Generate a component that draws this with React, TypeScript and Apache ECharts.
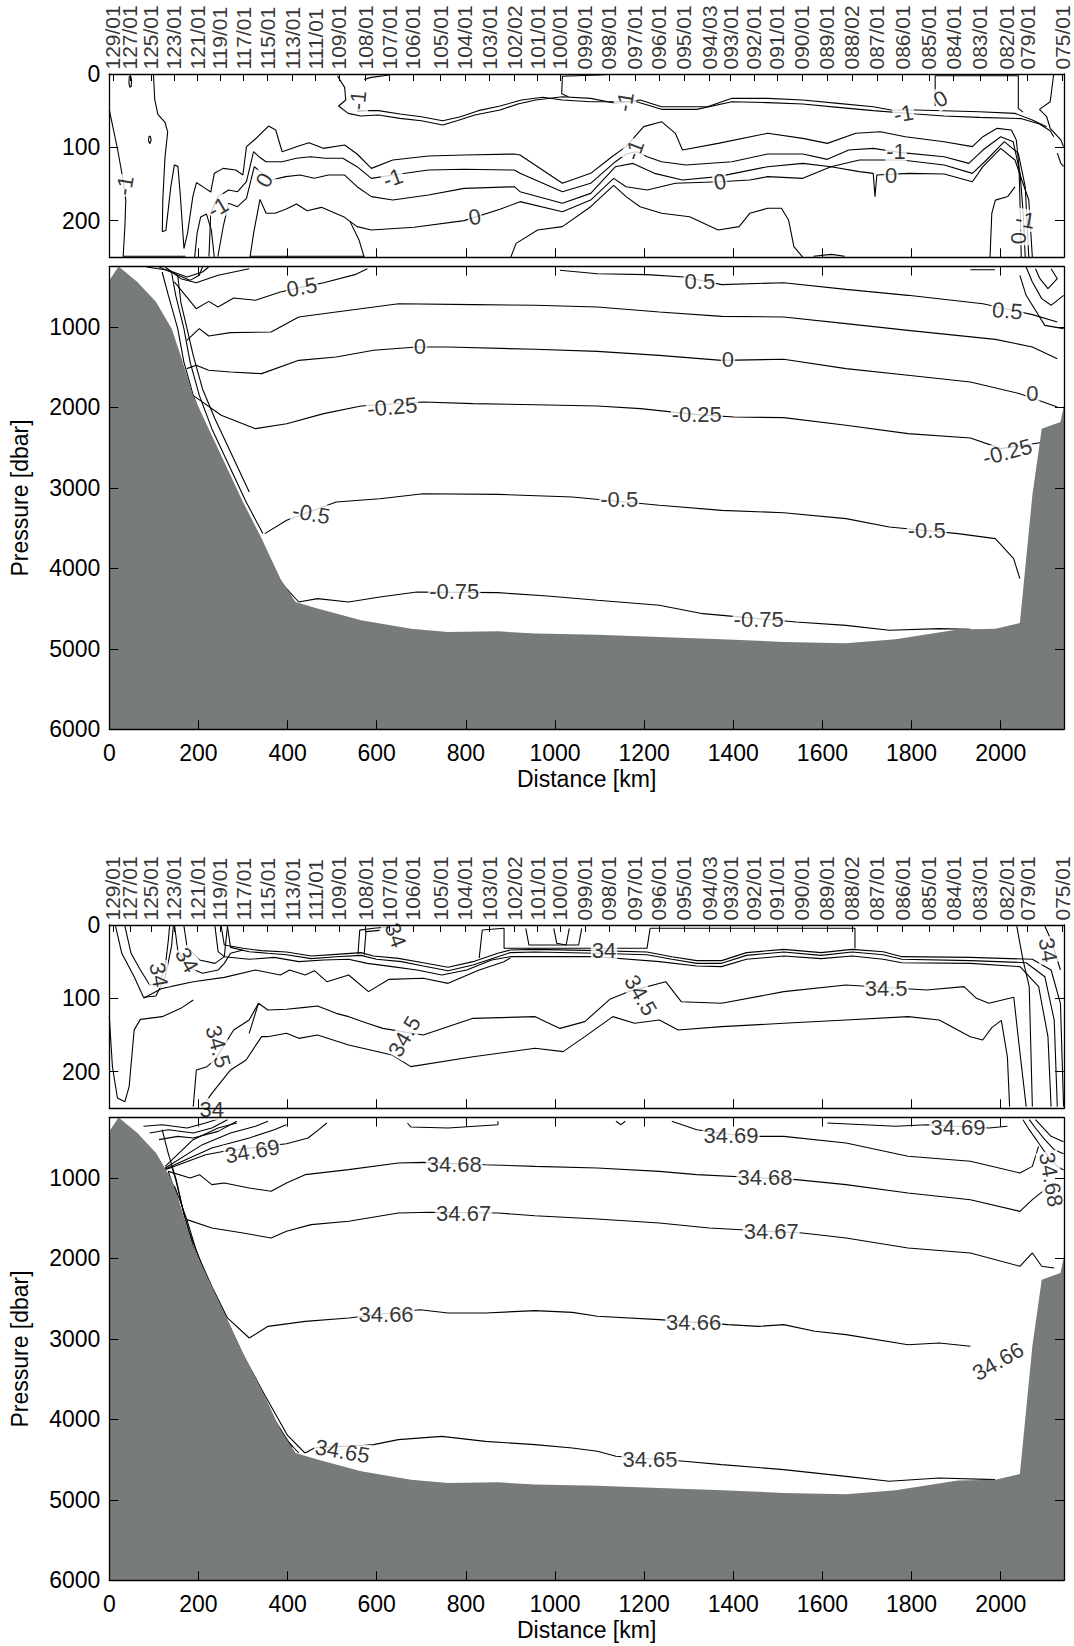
import React, { useEffect, useRef } from "react";
import * as echarts from "echarts";

const FONT = '"Liberation Sans", Arial, Helvetica, sans-serif';
const GRAY = "#787c79";

// ---------- axes ----------
const X_MAX = 2142;
const X_TICKS = [0, 200, 400, 600, 800, 1000, 1200, 1400, 1600, 1800, 2000];
const UPPER_P_TICKS = [0, 100, 200];
const LOWER_P_TICKS = [1000, 2000, 3000, 4000, 5000, 6000];

const STATION_NAMES = [
  "129/01", "127/01", "125/01", "123/01", "121/01", "119/01", "117/01", "115/01", "113/01", "111/01",
  "109/01", "108/01", "107/01", "106/01", "105/01", "104/01", "103/01", "102/02", "101/01", "100/01",
  "099/01", "098/01", "097/01", "096/01", "095/01", "094/03", "093/01", "092/01", "091/01", "090/01",
  "089/01", "088/02", "087/01", "086/01", "085/01", "084/01", "083/01", "082/01", "079/01", "075/01",
];
const STATION_KM = [
  8, 46, 93, 145, 197, 248, 300, 354, 410, 462,
  515, 574, 628, 681, 742, 798, 852, 908, 960, 1011,
  1067, 1121, 1179, 1233, 1289, 1346, 1393, 1446, 1498, 1554,
  1610, 1666, 1722, 1780, 1839, 1893, 1953, 2014, 2059, 2138,
];

// ---------- bathymetry (km, dbar) ----------
const BOTTOM_PROFILE = [
  [0, 420], [21, 250], [63, 441], [105, 690], [140, 1021], [160, 1353], [188, 1850], [223, 2264],
  [258, 2678], [300, 3175], [342, 3631], [384, 4128], [418, 4418], [467, 4500], [565, 4645],
  [677, 4749], [760, 4790], [872, 4782], [955, 4811], [1095, 4824], [1234, 4853], [1374, 4881],
  [1513, 4915], [1653, 4930], [1764, 4880], [1904, 4760], [1988, 4749], [2043, 4680],
  [2071, 3092], [2092, 2264], [2134, 2181], [2142, 1974],
];

// ---------- temperature, 0-250 dbar ----------
const tU_left = [[0, 49], [19, 104], [31, 145], [37, 172], [35, 208], [31, 250]];
const tU_loopA = [[45, 3], [44, 12], [46, 18], [49, 17], [50, 8], [48, 3], [45, 3]];
const tU_loopB = [[89, 85], [88, 91], [91, 95], [94, 90], [92, 85], [89, 85]];
const tU_s1 = [
  [99, 0], [102, 35], [109, 55], [125, 66], [131, 79], [125, 113], [120, 172], [119, 215], [127, 213],
  [138, 154], [146, 124], [154, 126], [159.5, 167], [167.5, 238], [175.5, 217], [187.5, 167], [195.5, 148],
  [215.5, 156], [227.6, 161], [235.6, 135.5], [255.6, 128.7], [283.7, 131], [299.7, 137.8], [307.7, 99.1],
  [325.3, 90], [357.4, 71], [373.4, 76.4], [387.8, 106], [419.9, 99.1], [447.9, 93.7], [480, 101.4],
  [528, 96.9], [556, 109.1], [588, 128.7], [636, 117.3], [716, 111.9], [796, 110.5], [908.7, 109.1],
  [921.5, 110.5], [1016.6, 149], [1080, 135.5], [1127.7, 112.8], [1159.4, 99.1], [1199, 71.8], [1239, 65],
  [1270, 80.9], [1286, 103.7], [1366, 94.6], [1477, 80.9], [1556, 87.8], [1611, 94.6], [1675, 80.9],
  [1730, 78.7], [1786, 85.5], [1873, 92.3], [1936.5, 99.1], [1960, 85.5], [1992, 74.1], [2024, 76.4],
  [2035, 90], [2041, 126.4], [2044, 190], [2046, 250],
];
const tU_s2 = [
  [223.6, 249], [227.6, 190], [243.6, 167.3], [267.6, 158.2], [287.7, 160.5], [307.7, 146.9], [323.7, 106],
  [335.7, 112.8], [351.8, 119.6], [387.8, 119.6], [419.9, 115], [451.9, 112.8], [484, 115], [524, 115],
  [556, 126.4], [588, 142.3], [636, 137.8], [716, 131], [796, 130], [908.7, 131], [921.5, 135.5],
  [1016.6, 160.5], [1080, 149.1], [1135.6, 119.6], [1159.4, 109.1], [1183, 106], [1207, 112.8],
  [1239, 119.6], [1294, 124.1], [1397, 119.6], [1477, 109.1], [1556, 109.1], [1611, 116.4], [1659, 103.7],
  [1714, 101.4], [1778, 107.3], [1873, 112.8], [1928.5, 121.9], [1960, 103.7], [2000, 85.5], [2028, 92.3],
  [2043.5, 135.5], [2051, 194.6], [2055, 250],
];
const tU_s3 = [
  [243.6, 249], [255.6, 208], [267.6, 176.4], [287.7, 181], [307.7, 169.6], [325.3, 126.4], [343.8, 135.5],
  [363.8, 144.6], [395.8, 140], [427.9, 137.8], [460, 142.3], [492, 137.8], [528, 137.8], [556, 153.7],
  [588, 167.3], [636, 171.9], [716, 165], [796, 156], [908.7, 153.7], [921.5, 160.5], [1016.6, 176.4],
  [1080, 162.8], [1135.6, 126.4], [1175, 121.9], [1223, 135.5], [1286, 144.6], [1366, 140], [1477, 126.4],
  [1556, 121.9], [1619, 126.4], [1683, 117.3], [1778, 117.3], [1873, 124.1], [1936.5, 135.5], [1968, 117.3],
  [2008, 92.3], [2039.5, 108.2], [2055, 153.7], [2063, 250],
];
const tU_s4 = [
  [315.7, 250], [323.7, 217.3], [338.1, 171], [351.8, 190], [371.8, 190], [395.8, 184.6], [419.9, 177.3],
  [443.9, 186.4], [476, 181.9], [528, 195.5], [556, 208.2], [588, 212.8], [684, 209.1], [796, 200],
  [876.6, 184.6], [921.5, 174.1], [1016.6, 187.8], [1080, 171.9], [1131.6, 142.3], [1159.4, 153.7],
  [1207, 158.2], [1270, 149.1], [1369.5, 146.9], [1437, 144.6], [1477, 140], [1556, 142.3], [1619, 126.4],
  [1683, 133.2], [1714, 135.5], [1718, 167.3], [1722, 137.8], [1794, 135.5], [1873, 136.4], [1936.5, 146.9],
  [1960, 126.4], [2000, 101.4], [2032, 117.3], [2063, 171.9], [2071, 250],
];
const tU_blob1 = [[540, 201], [560, 226], [572, 250]];
const tU_blob2 = [
  [900.7, 250], [912.7, 231], [961, 212.8], [1016.6, 208.2], [1080, 181], [1131.6, 152], [1159.4, 167.3],
  [1191, 181], [1239, 190], [1302, 194.6], [1366, 212.8], [1413, 208.2], [1437, 190], [1477, 183.2],
  [1508, 183.2], [1524, 199.1], [1536, 235.5], [1556, 250],
];
const tU_vee = [[191.5, 250], [197, 217], [205, 195], [218, 191], [229, 213], [235.6, 250]];
const tU_top1 = [
  [512, 2.7], [528, 18.2], [530.5, 35.5], [514.4, 43.7], [536, 53.7], [564, 57.3], [604, 56], [652, 60.5],
  [700, 63.7], [748, 69.6], [780, 63.7], [820, 56], [876.6, 49.1], [916.7, 41], [956.7, 35.5], [1016.6, 31],
  [1080, 33.2], [1135.6, 40], [1191, 35.5], [1239, 44.6], [1342, 44.6], [1397, 33.2], [1477, 33.2],
  [1556, 35.5], [1635, 40], [1714, 44.6], [1754, 49.1], [1810, 49.1], [1952, 51.4], [2032, 53.7],
  [2071, 62.8], [2103, 71.8],
];
const tU_top2 = [
  [556, 50], [604, 50], [652, 54.6], [700, 58.2], [748, 63.7], [788, 58.2], [828, 50], [876.6, 43.7],
  [924.7, 35.5], [972.8, 31.8], [1016.6, 35.5], [1080, 37.8], [1183, 37.8], [1239, 48.2], [1318, 48.2],
  [1397, 37.8], [1477, 39.1], [1556, 41], [1635, 45.5], [1714, 50], [1810, 54.6], [1873, 57.3],
  [1952, 59.1], [2047, 60.9], [2087, 68.2], [2111, 77.3], [2119, 85.5],
];
const tU_top3 = [[572, 7.3], [588, 4.6], [628, 1.4]];
const tU_box1 = [[1112, 1], [1016.6, 3], [1015, 27], [1030, 31]];
const tU_box2 = [[1853, 43.7], [1853, 2.3], [2039.5, 2.3], [2039.5, 46.8], [2050, 52]];
const tU_edge1 = [[2119, 0], [2111, 37.8], [2087, 48.2], [2103, 58], [2111, 74], [2135, 90], [2141, 99]];
const tU_edge2 = [[2127, 108], [2135, 122], [2141, 126]];
const tU_rise = [[1976, 250], [1980, 190], [1988, 172], [2016, 167], [2032, 154]];
const tU_bot1 = [[31, 248.5], [171, 248.5]];
const tU_bot2 = [[316, 248.5], [572, 248.5]];
const tU_bot3 = [[1580, 248.5], [1620, 246], [1650, 248.5]];

const T_UP_LABELS: [string, number, number, number][] = [
  ["-1", 35, 152, 80], ["-1", 558, 36, 85], ["-1", 244, 182, 30], ["0", 348, 145, 60],
  ["-1", 636, 142, 20], ["0", 820, 195, 10], ["-1", 1157, 38, 80], ["-1", 1178, 104, 70],
  ["0", 1370, 147, 10], ["-1", 1782, 54, 10], ["0", 1865, 34, 30], ["-1", 1765, 106, 0],
  ["0", 1754, 138, 0], ["0", 2039, 224, 90], ["-1", 2055, 199, -10],
];

// ---------- temperature, 250-6000 dbar ----------
const tL_p05a = [[146, 441], [195, 773], [223, 682], [244, 752], [279, 640], [328, 669], [384, 566], [432, 505], [481, 450], [551, 350], [579, 276]];
const tL_p05b = [[1011, 296], [1095, 338], [1206, 350], [1290, 379], [1374, 474], [1513, 450], [1653, 533], [1792, 607], [1960, 711], [2071, 847], [2127, 938]];
const tL_p025 = [[174, 1166], [202, 1021], [223, 1112], [272, 1071], [363, 1063], [425, 876], [509, 814], [649, 711], [816, 723], [955, 731], [1095, 752], [1234, 814], [1374, 868], [1513, 876], [1653, 959], [1792, 1042], [1988, 1154], [2071, 1249], [2127, 1394]];
const tL_0 = [[174, 1518], [195, 1477], [223, 1539], [272, 1560], [342, 1580], [425, 1415], [509, 1373], [593, 1290], [690, 1249], [760, 1249], [955, 1278], [1095, 1303], [1234, 1353], [1374, 1415], [1513, 1402], [1653, 1518], [1792, 1601], [1932, 1684], [2043, 1829], [2127, 1995]];
const tL_m025 = [[188, 1850], [251, 2098], [328, 2264], [398, 2202], [481, 2077], [565, 1982], [704, 1932], [816, 1953], [955, 1966], [1095, 1982], [1192, 2015], [1318, 2090], [1402, 2119], [1513, 2127], [1653, 2222], [1792, 2326], [1932, 2380], [2001, 2512], [2099, 2429]];
const tL_m05 = [[349, 3568], [398, 3403], [509, 3175], [607, 3134], [704, 3072], [872, 3080], [1039, 3113], [1234, 3216], [1374, 3279], [1513, 3308], [1653, 3382], [1750, 3486], [1904, 3568], [1988, 3631], [2029, 3879], [2043, 4128]];
const tL_m075 = [[425, 4418], [467, 4376], [537, 4418], [607, 4355], [690, 4293], [872, 4302], [983, 4343], [1095, 4397], [1234, 4459], [1332, 4563], [1541, 4666], [1653, 4708], [1750, 4770], [1862, 4749], [1932, 4757]];
const tL_slope1 = [[118.6, 317], [132.5, 607], [153.5, 1021], [167.4, 1436], [188.3, 1850], [216, 2264], [251, 2678], [293, 3175], [335, 3631], [384, 4169], [425, 4418]];
const tL_slope2 = [[139.5, 317], [149, 607], [167.4, 1021], [181.3, 1436], [202, 1850], [230, 2264], [265, 2678], [307, 3175], [344.5, 3568]];
const tL_slope3 = [[153.5, 358], [160.4, 690], [174.4, 1021], [188.3, 1353], [209, 1767], [237, 2140], [272, 2554], [314, 3051]];
const tL_tl1 = [[84, 255], [132.5, 296], [174.4, 379], [209, 317], [223, 255]];
const tL_tl2 = [[111.6, 255], [146.5, 338], [181, 421], [202, 358], [209, 255]];
const tL_tl3 = [[125.5, 255], [160.4, 400], [195, 450], [244, 358], [314, 276]];
const tL_tr1 = [[2057, 255], [2071, 441], [2092, 648], [2113, 731], [2141, 607]];
const tL_tr2 = [[2078, 276], [2088, 400], [2106, 524], [2127, 400], [2113, 276]];
const tL_tr3 = [[2043, 358], [2057, 607], [2099, 980], [2141, 1021]];
const tL_short = [[1932, 290], [1987, 290]];

const T_LOW_LABELS: [string, number, number, number][] = [
  ["0.5", 432, 505, 10], ["0.5", 1325, 440, 0], ["0.5", 2015, 800, -5],
  ["0", 697, 1249, 0], ["0", 1388, 1410, 0], ["0", 2071, 1829, 0],
  ["-0.25", 635, 1995, 5], ["-0.25", 1318, 2090, 0], ["-0.25", 2015, 2554, 15],
  ["-0.5", 453, 3320, -10], ["-0.5", 1144, 3140, 0], ["-0.5", 1834, 3527, 0],
  ["-0.75", 774, 4293, 0], ["-0.75", 1457, 4630, 0],
];

// ---------- salinity, 0-250 dbar ----------
const sU_band1 = [[251, 1.4], [258, 27.3], [300, 31.8], [341.7, 35], [397.5, 36.8], [453.3, 42.3], [509.1, 40], [564.9, 37.7], [592.8, 42.3], [648.6, 45.5], [704.3, 51.4], [760.1, 57.7], [815.9, 50], [871.7, 38.6], [899.6, 34.1], [955.4, 33.2], [1094.9, 35], [1206.4, 36.8], [1262.2, 43.2], [1318, 48.6], [1373.8, 48.6], [1429.6, 37.7], [1513.3, 33.2], [1596.9, 37.7], [1666.7, 33.2], [1736.4, 36.4], [1778.3, 43.2], [1931.7, 44.1], [2071.1, 46.8], [2113, 61.4], [2134, 106.8], [2141, 247.7]];
const sU_band2 = [[265, 1.4], [272, 30.5], [313.8, 36.4], [355.7, 38.6], [397.5, 40.5], [453.3, 45.9], [509.1, 43.2], [564.9, 41.4], [599.8, 46.8], [655.5, 50], [704.3, 55.9], [760.1, 62.3], [815.9, 54.5], [871.7, 43.2], [899.6, 37.7], [955.4, 36.8], [1094.9, 38.6], [1206.4, 40.5], [1262.2, 46.8], [1318, 52.3], [1373.8, 52.3], [1429.6, 41.4], [1513.3, 36.8], [1596.9, 41.4], [1666.7, 36.8], [1736.4, 40.5], [1778.3, 46.8], [1931.7, 48.6], [2057.2, 51.4], [2099, 70.5], [2120, 129.6], [2127, 247.7]];
const sU_band3 = [[237.1, 1.4], [244.1, 36.4], [258, 43.2], [313.8, 46.8], [369.6, 44.1], [425.4, 50], [481.2, 47.7], [537, 46.8], [578.8, 52.3], [634.6, 56.8], [690.4, 61.4], [746.2, 68.2], [802, 61.4], [857.8, 47.7], [899.6, 43.2], [1094.9, 43.2], [1234.3, 50], [1318, 55.9], [1373.8, 56.8], [1429.6, 46.8], [1513.3, 42.3], [1596.9, 45.9], [1666.7, 42.3], [1736.4, 46.8], [1778.3, 51.4], [1931.7, 52.3], [2043.3, 56.8], [2085.1, 84.1], [2106, 152.3], [2113, 247.7]];
const sU_under = [[76.7, 100], [118.6, 86.4], [188.3, 77.3], [258, 71.4], [327.8, 61.4], [383.6, 68.2], [404.5, 61.4], [439.4, 68.2], [460.3, 62.3], [488.2, 77.3], [537, 68.2], [581.6, 90.9], [627.6, 74.1], [704.3, 72.7], [760.1, 79.6], [829.9, 61.4], [885.7, 50], [899.6, 45]];
const sU_345a = [[313.8, 147.7], [334.7, 106.8], [355.7, 115.9], [397.5, 115], [439.4, 112.3], [467.2, 110.5], [509.1, 120.5], [537, 125], [578.8, 134.1], [613.7, 141], [704.3, 150], [815.9, 127.3], [955.4, 125], [1011.2, 141], [1066.9, 131.8], [1122.8, 101.4], [1164.6, 90.9], [1248.3, 77.3], [1283.2, 104.6], [1373.8, 106.8], [1513.3, 90.9], [1652.7, 81.8], [1834, 88.6], [1917.7, 84.1], [1945.6, 100], [1973.5, 106.8], [2029.3, 98.6], [2043.3, 175], [2057.2, 247.7]];
const sU_345b = [[355.7, 152.3], [397.5, 147.7], [425.4, 154.6], [467.2, 150], [537, 163.6], [634.6, 177.3], [676.5, 193.2], [815.9, 179.6], [955.4, 168.2], [1018.2, 172.7], [1066.9, 152.3], [1129.7, 125], [1178.5, 134.1], [1234.3, 129.6], [1276.2, 143.2], [1373.8, 138.6], [1513.3, 134.1], [1652.7, 129.6], [1792.2, 125], [1862, 129.6], [1931.7, 152.3], [1959.6, 156.8], [1980, 140], [2001.4, 130], [2015, 180], [2020, 247.7]];
const sU_leftV = [[0, 125], [7, 193], [18.2, 236], [35, 241], [44.6, 220], [55.8, 143], [69.8, 128.7], [118.6, 125], [160.4, 113.7], [188.3, 102.3]];
const sU_left345 = [[188.3, 247.7], [195.3, 197.7], [219, 193.2], [237, 184], [279, 143.2], [313.8, 129.6], [334.7, 106.8]];
const sU_left2 = [[209.2, 247.7], [230.1, 229.6], [272, 197.7], [306.9, 184.1], [341.7, 152.3], [355.7, 152.3]];
const sU_u1 = [[14, 1.4], [28, 38.6], [55.8, 70.5], [76.7, 98.6], [104.6, 96.8], [125.5, 70.5], [139.5, 29.5], [143.7, 1.4]];
const sU_u2 = [[35, 1.4], [48.8, 38.6], [69.8, 61.4], [90.7, 81.8], [111.6, 79.6], [125.5, 56.8], [132.5, 20.5], [135.3, 1.4]];
const sU_u3 = [[146.5, 1.4], [153.5, 34.1], [174.4, 56.8], [209.2, 65.9], [244.1, 61.4], [258, 52.3], [272, 38.6], [300, 34.1]];
const sU_u4 = [[167.4, 1.4], [174.4, 29.5], [202.3, 47.7], [237.1, 52.3], [258, 43.2], [265, 2.3]];
const sU_sb1 = [[557.9, 40], [561.9, 7], [592.8, 4.5], [634.6, 2.3]];
const sU_sb2 = [[571.8, 41], [575.9, 9], [606.7, 7.3]];
const sU_mb1 = [[829.9, 45], [836.8, 6.8], [885.7, 4.5]];
const sU_mb2 = [[885.7, 4.5], [885.7, 31.8], [1206.4, 31.8], [1213.4, 4.5]];
const sU_mb3 = [[934.5, 4.5], [941.5, 27.3], [1053, 27.3], [1060, 4.5]];
const sU_mb4 = [[997.3, 4.5], [1004, 25], [1025, 27.3], [1032, 4.5]];
const sU_mb5 = [[1213.4, 4.5], [1673, 4.5], [1673, 32]];
const sU_re1 = [[2036, 1.4], [2050, 47.7], [2064, 84.1], [2071, 247.7]];
const sU_re2 = [[2099, 1.4], [2113, 20.5], [2134, 61.4]];

const S_UP_LABELS: [string, number, number, number][] = [
  ["34", 111, 68, -80], ["34", 174, 48, -60], ["34.5", 244, 166, -75], ["34", 230, 251, 0],
  ["34", 642, 14, -70], ["34", 1110, 35, 0], ["34.5", 662, 152, 60], ["34.5", 1192, 96, -60],
  ["34.5", 1743, 86, 0], ["34", 2106, 34, -80],
];

// ---------- salinity, 250-6000 dbar ----------
const sL_fan1 = [[125.5, 897], [216, 711], [258, 669], [397.5, 574], [446, 503], [470, 400], [488, 317]];
const sL_fan2 = [[125.5, 889], [230, 628], [314, 504], [370, 400], [397.5, 338]];
const sL_fan3 = [[125.5, 876], [209, 586], [272, 441], [328, 358], [356, 296]];
const sL_fan4 = [[125.5, 855], [188, 524], [244, 379], [286, 317]];
const sL_tl1 = [[76.7, 358], [118.6, 338], [174.4, 379], [216, 317], [244, 267]];
const sL_tl2 = [[90.7, 441], [132.5, 400], [188.3, 441], [230, 379], [265, 276]];
const sL_tl3 = [[111.6, 524], [153.5, 483], [188.3, 503], [244, 421], [286, 296]];
const sL_3468 = [[132.5, 918], [181.3, 1000], [202.3, 959], [230, 1083], [258, 1063], [314, 1125], [363, 1166], [397.5, 1063], [439.4, 959], [537, 897], [648.6, 814], [704.3, 806], [843.8, 835], [955.4, 856], [1095, 876], [1234, 918], [1318, 959], [1541, 1021], [1653, 1083], [1792, 1187], [1932, 1270], [2043, 1415], [2071, 1270], [2099, 1145]];
const sL_3469a = [[1262, 296], [1318, 400], [1395, 460], [1457, 483], [1513, 483], [1653, 566], [1792, 731], [1932, 793], [2043, 938], [2071, 856], [2085, 607]];
const sL_3469b = [[1611, 317], [1764, 358], [1834, 338], [1973.5, 379], [2015, 358]];
const sL_loop = [[669, 317], [676.5, 367], [760, 379], [872, 338], [872, 296]];
const sL_vee = [[1136.7, 296], [1148, 338], [1157.6, 296]];
const sL_3467 = [[174.4, 1518], [230, 1622], [300, 1684], [363, 1746], [397.5, 1663], [453, 1580], [537, 1539], [648.6, 1436], [718, 1427], [872, 1436], [955.4, 1469], [1095, 1510], [1234, 1560], [1346, 1622], [1555, 1684], [1653, 1746], [1792, 1870], [1932, 1932], [2043, 2098], [2071, 1932], [2092, 2098], [2120, 2119]];
const sL_3466 = [[314, 2989], [356, 2844], [439.4, 2782], [537, 2740], [697, 2637], [760, 2678], [844, 2678], [955.4, 2649], [1039, 2670], [1095, 2719], [1234, 2761], [1388, 2823], [1457, 2844], [1513, 2823], [1583, 2906], [1653, 2947], [1792, 3072], [1862, 3051], [1932, 3092]];
const sL_3465 = [[439.4, 4418], [460, 4355], [593, 4314], [648.6, 4252], [746, 4211], [844, 4273], [955.4, 4314], [1039, 4355], [1095, 4397], [1136.7, 4459], [1290, 4521], [1374, 4563], [1513, 4625], [1653, 4708], [1750, 4770], [1862, 4728], [1987.5, 4749]];
const sL_slope1 = [[118.6, 400], [132.5, 700], [150, 1021], [167, 1436], [188, 1850], [216, 2264], [251, 2678], [293, 3175], [335, 3631], [384, 4169], [425, 4418]];
const sL_slope2 = [[140, 860], [149, 1021], [167, 1436], [181, 1700], [202, 2000], [230, 2350], [265, 2740], [314, 2989]];
const sL_slope3 = [[146, 1100], [160, 1300], [174, 1518], [195, 1900], [223, 2300], [258, 2700], [300, 3200], [349, 3700], [400, 4200], [439, 4418]];
const sL_slope4 = [[132, 918], [150, 1200], [165, 1500], [185, 1850], [210, 2200], [240, 2600], [280, 3100], [320, 3500], [370, 4000], [410, 4350]];
const sL_tr1 = [[2050, 276], [2064, 400], [2085, 566], [2106, 731], [2127, 856], [2141, 900]];
const sL_tr2 = [[2064, 276], [2078, 379], [2099, 524], [2120, 649], [2141, 700]];
const sL_tr3 = [[2078, 276], [2092, 358], [2113, 483], [2141, 550]];

const S_LOW_LABELS: [string, number, number, number][] = [
  ["34.69", 321, 669, 10], ["34.69", 1395, 470, 0], ["34.69", 1904, 379, 0],
  ["34.68", 774, 830, 0], ["34.68", 1471, 1000, 0], ["34.68", 2113, 1021, -80],
  ["34.67", 795, 1436, 0], ["34.67", 1485, 1663, 0],
  ["34.66", 621, 2699, 0], ["34.66", 1311, 2802, 0], ["34.66", 1994, 3279, 30],
  ["34.65", 523, 4397, -10], ["34.65", 1213, 4500, 0],
];

const PANELS = [
  { lines: [tU_left, tU_loopA, tU_loopB, tU_s1, tU_s2, tU_s3, tU_s4, tU_blob1, tU_blob2, tU_vee, tU_top1, tU_top2, tU_top3, tU_box1, tU_box2, tU_edge1, tU_edge2, tU_rise, tU_bot1, tU_bot2, tU_bot3], labels: T_UP_LABELS, bottom: false },
  { lines: [tL_p05a, tL_p05b, tL_p025, tL_0, tL_m025, tL_m05, tL_m075, tL_slope1, tL_slope2, tL_slope3, tL_tl1, tL_tl2, tL_tl3, tL_tr1, tL_tr2, tL_tr3, tL_short], labels: T_LOW_LABELS, bottom: true },
  { lines: [sU_band1, sU_band2, sU_band3, sU_under, sU_345a, sU_345b, sU_leftV, sU_left345, sU_left2, sU_u1, sU_u2, sU_u3, sU_u4, sU_sb1, sU_sb2, sU_mb1, sU_mb2, sU_mb3, sU_mb4, sU_mb5, sU_re1, sU_re2], labels: S_UP_LABELS, bottom: false },
  { lines: [sL_fan1, sL_fan2, sL_fan3, sL_fan4, sL_tl1, sL_tl2, sL_tl3, sL_3468, sL_3469a, sL_3469b, sL_loop, sL_vee, sL_3467, sL_3466, sL_3465, sL_slope1, sL_slope2, sL_slope3, sL_slope4, sL_tr1, sL_tr2, sL_tr3], labels: S_LOW_LABELS, bottom: true },
];

const GRID_TOPS = [74, 266.6, 925, 1117.6];
const GRID_HEIGHTS = [183.3, 462.7, 183.3, 462.7];

const plain = (v: number) => String(Math.round(v));

function buildOption() {
  const axisLine = { show: true, onZero: false, lineStyle: { color: "#000", width: 1.3 } };
  const tickStyle = { color: "#000", width: 1 };
  const grid: any[] = [];
  const xAxis: any[] = [];
  const yAxis: any[] = [];
  const series: any[] = [];

  PANELS.forEach((panel, g) => {
    const upper = !panel.bottom;
    grid.push({ left: 109.3, right: 10, top: GRID_TOPS[g], height: GRID_HEIGHTS[g], containLabel: false });
    xAxis.push({
      gridIndex: g, type: "value", min: 0, max: X_MAX, position: "bottom", z: 10,
      axisLine,
      axisTick: { show: true, inside: true, length: 9, customValues: X_TICKS, lineStyle: tickStyle },
      axisLabel: {
        show: !upper, customValues: X_TICKS, color: "#000", fontSize: 23, fontFamily: FONT, margin: 12,
        formatter: plain, showMinLabel: true, showMaxLabel: true,
      },
      splitLine: { show: false },
      name: upper ? "" : "Distance [km]", nameLocation: "middle", nameGap: 38,
      nameTextStyle: { color: "#000", fontSize: 23, fontFamily: FONT },
    });
    xAxis.push({
      gridIndex: g, type: "value", min: 0, max: X_MAX, position: "top", z: 10,
      axisLine,
      axisTick: { show: true, inside: true, length: upper ? 7 : 9, customValues: upper ? STATION_KM : X_TICKS, lineStyle: tickStyle },
      axisLabel: { show: false },
      splitLine: { show: false },
    });
    const pMin = upper ? 0 : 250;
    const pMax = upper ? 250 : 6000;
    const pTicks = upper ? UPPER_P_TICKS : LOWER_P_TICKS;
    yAxis.push({
      gridIndex: g, type: "value", inverse: true, min: pMin, max: pMax, position: "left", z: 10,
      axisLine,
      axisTick: { show: true, inside: true, length: 9, customValues: pTicks, lineStyle: tickStyle },
      axisLabel: {
        show: true, customValues: pTicks, color: "#000", fontSize: 23, fontFamily: FONT, margin: 9,
        formatter: plain, showMinLabel: true, showMaxLabel: true,
      },
      splitLine: { show: false },
      name: upper ? "" : "Pressure [dbar]", nameLocation: "middle", nameGap: 78,
      nameTextStyle: { color: "#000", fontSize: 23, fontFamily: FONT },
    });
    yAxis.push({
      gridIndex: g, type: "value", inverse: true, min: pMin, max: pMax, position: "right", z: 10,
      axisLine,
      axisTick: { show: true, inside: true, length: 9, customValues: pTicks, lineStyle: tickStyle },
      axisLabel: { show: false },
      splitLine: { show: false },
    });
    const xi = g * 2;
    const yi = g * 2;
    panel.lines.forEach((line) => {
      series.push({
        type: "line", xAxisIndex: xi, yAxisIndex: yi, data: line, symbol: "none", silent: true,
        lineStyle: { color: "#000", width: 1.1 }, z: 3, clip: true,
      });
    });
    if (!upper) {
      series.push({
        type: "line", xAxisIndex: xi, yAxisIndex: yi, data: BOTTOM_PROFILE, symbol: "none", silent: true,
        lineStyle: { width: 0, color: GRAY }, areaStyle: { color: GRAY, opacity: 1, origin: "end" }, z: 4, clip: true,
      });
    }
    series.push({
      type: "scatter", xAxisIndex: xi, yAxisIndex: yi, symbolSize: 1, silent: true, clip: false, z: 6,
      itemStyle: { color: "rgba(0,0,0,0)" },
      label: {
        show: true, position: "inside", formatter: "{b}", color: "#000", fontSize: 22, fontFamily: FONT,
        backgroundColor: "#fff", padding: [0, 1],
      },
      data: panel.labels.map(([t, km, p, r]) => ({ name: t, value: [km, p], label: { rotate: r } })),
    });
    if (upper) {
      // station names above the upper panels
      series.push({
        type: "scatter", xAxisIndex: xi, yAxisIndex: yi, symbolSize: 1, silent: true, clip: false, z: 6,
        itemStyle: { color: "rgba(0,0,0,0)" },
        label: {
          show: true, position: "top", distance: 4, rotate: 90, align: "left", verticalAlign: "middle",
          formatter: "{b}", color: "#000", fontSize: 21, fontFamily: FONT,
        },
        labelLayout: { hideOverlap: false },
        data: STATION_KM.map((km, i) => ({ name: STATION_NAMES[i], value: [km, 0] })),
      });
    }
  });

  return {
    animation: false,
    backgroundColor: "#fff",
    textStyle: { fontFamily: FONT },
    grid, xAxis, yAxis, series,
  };
}

export default function App() {
  const ref = useRef<HTMLDivElement>(null);
  useEffect(() => {
    if (!ref.current) return;
    const chart = echarts.init(ref.current, undefined, { renderer: "svg" });
    chart.setOption(buildOption() as any);
    return () => chart.dispose();
  }, []);
  return <div ref={ref} style={{ position: "fixed", left: 0, top: 0, width: 1074, height: 1646, background: "#fff" }} />;
}
